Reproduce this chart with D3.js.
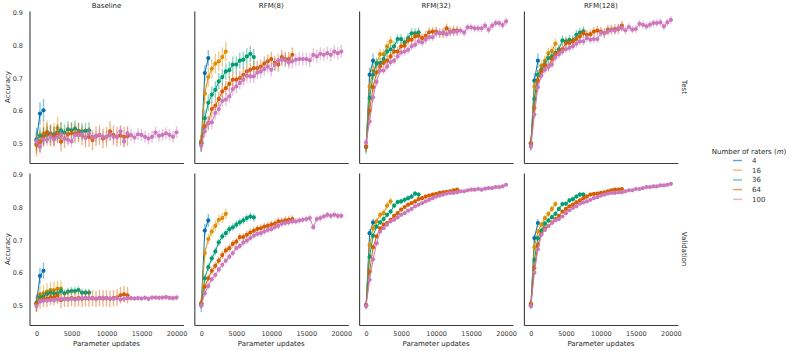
<html>
<head>
<meta charset="UTF-8">
<script src="https://cdn.jsdelivr.net/npm/d3@7"></script>
<style>
  body { margin: 0; background: #fff; }
  text { font-family: "DejaVu Sans", sans-serif; fill: #262626; }
  .axis path { stroke: #3d3d3d; stroke-width: 1.1; }
  .axis text { font-size: 6.5px; fill: #3a3a3a; }
</style>
</head>
<body>
<script>

// facet labels
let columns = ["Baseline", "RFM(8)", "RFM(32)", "RFM(128)"];
let rows = ["Test", "Validation"];
let raters = [4, 16, 36, 64, 100];
let colors = ["#0173b2", "#de8f05", "#029e73", "#d55e00", "#cc78bc"];

// evaluation points (parameter updates)
let updates = [0, 500, 1000, 1500, 2000, 2500, 3000, 3500, 4000, 4500, 5000, 5500, 6000, 6500, 7000, 7500,
  8000, 8500, 9000, 9500, 10000, 10500, 11000, 11500, 12000, 12500, 13000, 13500, 14000, 14500, 15000,
  15500, 16000, 16500, 17000, 17500, 18000, 18500, 19000, 19500, 20000];

let xTicks = [0, 5000, 10000, 15000, 20000];
let yTicks = [0.5, 0.6, 0.7, 0.8, 0.9];

// accuracy per panel, one list per number of raters (4, 16, 36, 64, 100)
let testBaseline = [
  [0.512, 0.591, 0.601],
  [0.494, 0.505, 0.530, 0.535, 0.525, 0.528, 0.547, 0.530],
  [0.510, 0.524, 0.522, 0.527, 0.530, 0.527, 0.533, 0.540, 0.533, 0.543, 0.540, 0.545, 0.538, 0.537, 0.538, 0.540],
  [0.498, 0.504, 0.520, 0.532, 0.525, 0.520, 0.530, 0.505, 0.515, 0.528, 0.532, 0.530, 0.533, 0.525, 0.518, 0.520, 0.510, 0.522, 0.525, 0.515, 0.520, 0.537, 0.525, 0.520, 0.524, 0.520, 0.522],
  [0.506, 0.490, 0.511, 0.511, 0.520, 0.512, 0.520, 0.525, 0.515, 0.511, 0.506, 0.525, 0.525, 0.527, 0.517, 0.530, 0.520, 0.520, 0.526, 0.520, 0.520, 0.526, 0.520, 0.520, 0.537, 0.506, 0.531, 0.525, 0.518, 0.528, 0.526, 0.520, 0.515, 0.520, 0.533, 0.523, 0.526, 0.531, 0.526, 0.520, 0.534]
];
let testRFM8 = [
  [0.500, 0.715, 0.761],
  [0.506, 0.652, 0.703, 0.728, 0.744, 0.751, 0.764, 0.781],
  [0.500, 0.577, 0.624, 0.649, 0.664, 0.690, 0.703, 0.720, 0.724, 0.741, 0.741, 0.753, 0.756, 0.766, 0.774, 0.764],
  [0.506, 0.552, 0.562, 0.605, 0.615, 0.636, 0.659, 0.669, 0.682, 0.695, 0.695, 0.700, 0.710, 0.720, 0.725, 0.730, 0.730, 0.735, 0.744, 0.751, 0.758, 0.746, 0.741, 0.764, 0.758, 0.758, 0.771],
  [0.493, 0.537, 0.562, 0.564, 0.593, 0.605, 0.630, 0.634, 0.644, 0.666, 0.674, 0.685, 0.695, 0.707, 0.705, 0.705, 0.717, 0.720, 0.727, 0.735, 0.725, 0.741, 0.754, 0.756, 0.754, 0.748, 0.751, 0.756, 0.758, 0.758, 0.758, 0.754, 0.771, 0.766, 0.774, 0.771, 0.776, 0.771, 0.781, 0.776, 0.781]
];
let testRFM32 = [
  [0.490, 0.710, 0.753],
  [0.490, 0.674, 0.722, 0.746, 0.773, 0.773, 0.797, 0.812],
  [0.490, 0.639, 0.710, 0.744, 0.746, 0.758, 0.781, 0.788, 0.797, 0.819, 0.819, 0.809, 0.822, 0.837, 0.837, 0.840],
  [0.490, 0.600, 0.672, 0.717, 0.735, 0.746, 0.753, 0.766, 0.781, 0.781, 0.797, 0.799, 0.815, 0.817, 0.827, 0.829, 0.822, 0.829, 0.840, 0.842, 0.842, 0.837, 0.837, 0.852, 0.842, 0.845, 0.845],
  [0.503, 0.567, 0.641, 0.688, 0.723, 0.723, 0.735, 0.748, 0.753, 0.766, 0.778, 0.781, 0.786, 0.797, 0.802, 0.812, 0.809, 0.817, 0.825, 0.825, 0.837, 0.837, 0.839, 0.834, 0.841, 0.841, 0.842, 0.845, 0.839, 0.855, 0.855, 0.852, 0.852, 0.852, 0.860, 0.848, 0.860, 0.868, 0.868, 0.862, 0.873]
];
let testRFM128 = [
  [0.500, 0.692, 0.753],
  [0.500, 0.674, 0.710, 0.738, 0.753, 0.776, 0.783, 0.805],
  [0.500, 0.636, 0.710, 0.725, 0.741, 0.761, 0.766, 0.776, 0.788, 0.815, 0.812, 0.817, 0.815, 0.832, 0.839, 0.843],
  [0.499, 0.608, 0.692, 0.720, 0.738, 0.735, 0.758, 0.773, 0.781, 0.788, 0.807, 0.807, 0.812, 0.819, 0.827, 0.837, 0.832, 0.834, 0.842, 0.845, 0.842, 0.837, 0.848, 0.848, 0.850, 0.850, 0.860],
  [0.490, 0.588, 0.672, 0.707, 0.725, 0.735, 0.741, 0.763, 0.773, 0.781, 0.788, 0.792, 0.797, 0.805, 0.812, 0.812, 0.822, 0.817, 0.819, 0.819, 0.839, 0.837, 0.842, 0.848, 0.845, 0.853, 0.853, 0.846, 0.856, 0.848, 0.850, 0.866, 0.863, 0.858, 0.863, 0.868, 0.868, 0.870, 0.858, 0.870, 0.878]
];
let valBaseline = [
  [0.508, 0.590, 0.606],
  [0.505, 0.534, 0.537, 0.542, 0.547, 0.547, 0.551, 0.551],
  [0.505, 0.525, 0.527, 0.535, 0.539, 0.537, 0.537, 0.544, 0.537, 0.542, 0.544, 0.544, 0.547, 0.539, 0.539, 0.539],
  [0.505, 0.515, 0.520, 0.520, 0.525, 0.525, 0.530, 0.516, 0.520, 0.520, 0.522, 0.520, 0.522, 0.520, 0.522, 0.521, 0.522, 0.520, 0.522, 0.521, 0.522, 0.520, 0.522, 0.524, 0.531, 0.534, 0.531],
  [0.498, 0.512, 0.514, 0.515, 0.516, 0.516, 0.518, 0.519, 0.520, 0.518, 0.520, 0.518, 0.520, 0.522, 0.522, 0.522, 0.521, 0.520, 0.522, 0.523, 0.522, 0.521, 0.520, 0.522, 0.518, 0.520, 0.522, 0.522, 0.521, 0.522, 0.521, 0.523, 0.520, 0.524, 0.524, 0.523, 0.524, 0.525, 0.523, 0.522, 0.524]
];
let valRFM8 = [
  [0.500, 0.729, 0.760],
  [0.506, 0.660, 0.703, 0.726, 0.743, 0.762, 0.767, 0.780],
  [0.505, 0.583, 0.617, 0.644, 0.665, 0.693, 0.711, 0.721, 0.733, 0.739, 0.747, 0.754, 0.760, 0.767, 0.772, 0.769],
  [0.506, 0.557, 0.583, 0.606, 0.621, 0.637, 0.654, 0.668, 0.675, 0.688, 0.695, 0.709, 0.709, 0.716, 0.723, 0.728, 0.734, 0.736, 0.741, 0.743, 0.747, 0.750, 0.757, 0.757, 0.760, 0.762, 0.764],
  [0.500, 0.537, 0.559, 0.580, 0.593, 0.610, 0.624, 0.637, 0.649, 0.660, 0.675, 0.682, 0.692, 0.698, 0.706, 0.713, 0.719, 0.721, 0.726, 0.731, 0.733, 0.739, 0.743, 0.750, 0.752, 0.754, 0.757, 0.757, 0.760, 0.762, 0.764, 0.767, 0.739, 0.764, 0.767, 0.772, 0.777, 0.774, 0.777, 0.774, 0.774]
];
let valRFM32 = [
  [0.500, 0.721, 0.754],
  [0.500, 0.685, 0.736, 0.757, 0.777, 0.782, 0.805, 0.818],
  [0.500, 0.649, 0.713, 0.741, 0.754, 0.764, 0.777, 0.787, 0.805, 0.816, 0.818, 0.823, 0.828, 0.833, 0.842, 0.839],
  [0.500, 0.603, 0.678, 0.711, 0.736, 0.747, 0.752, 0.762, 0.774, 0.782, 0.793, 0.801, 0.808, 0.813, 0.818, 0.825, 0.828, 0.833, 0.836, 0.839, 0.841, 0.844, 0.846, 0.847, 0.849, 0.852, 0.854],
  [0.498, 0.578, 0.641, 0.690, 0.726, 0.736, 0.747, 0.757, 0.762, 0.769, 0.777, 0.782, 0.790, 0.795, 0.803, 0.808, 0.813, 0.818, 0.823, 0.828, 0.833, 0.836, 0.839, 0.842, 0.844, 0.844, 0.846, 0.849, 0.849, 0.852, 0.854, 0.854, 0.856, 0.854, 0.857, 0.859, 0.859, 0.862, 0.862, 0.864, 0.869]
];
let valRFM128 = [
  [0.500, 0.706, 0.752],
  [0.506, 0.678, 0.726, 0.747, 0.767, 0.780, 0.795, 0.810],
  [0.500, 0.639, 0.706, 0.729, 0.750, 0.760, 0.770, 0.780, 0.795, 0.810, 0.811, 0.821, 0.825, 0.833, 0.839, 0.839],
  [0.503, 0.614, 0.685, 0.719, 0.736, 0.743, 0.754, 0.764, 0.774, 0.787, 0.795, 0.803, 0.808, 0.815, 0.821, 0.828, 0.833, 0.839, 0.841, 0.842, 0.844, 0.846, 0.849, 0.852, 0.854, 0.854, 0.856],
  [0.498, 0.600, 0.672, 0.716, 0.731, 0.743, 0.752, 0.760, 0.764, 0.772, 0.782, 0.791, 0.798, 0.803, 0.811, 0.815, 0.818, 0.823, 0.828, 0.831, 0.836, 0.839, 0.842, 0.844, 0.844, 0.846, 0.846, 0.849, 0.852, 0.852, 0.856, 0.856, 0.859, 0.862, 0.862, 0.864, 0.864, 0.867, 0.867, 0.869, 0.872]
];

// error bar half-widths, per panel, per number of raters
let testErr = [
  [0.035, 0.035, 0.025, 0.030, 0.018],
  [0.025, 0.030, 0.025, 0.022, 0.020],
  [0.022, 0.016, 0.015, 0.015, 0.012],
  [0.022, 0.016, 0.015, 0.015, 0.012]
];
let valErr = [
  [0.025, 0.025, 0.012, 0.025, 0.008],
  [0.020, 0.016, 0.012, 0.012, 0.010],
  [0.012, 0.012, 0.008, 0.006, 0.005],
  [0.012, 0.010, 0.008, 0.006, 0.005]
];

let panels = [
  [testBaseline, testRFM8, testRFM32, testRFM128],
  [valBaseline, valRFM8, valRFM32, valRFM128]
];
let errs = [testErr, valErr];

// layout
let W = 793, H = 351;
let left = 29.5, panelW = 154, gap = 10.8;
let rowTop = [11, 173], panelH = 152;

let svg = d3.select("body").append("svg")
  .attr("width", W).attr("height", H);

let x = d3.scaleLinear().domain([-1000, 21000]).range([0, panelW]);
let y = d3.scaleLinear().domain([0.44, 0.905]).range([panelH, 0]);

let line = d3.line()
  .x(d => x(d.u))
  .y(d => y(d.v));

rows.forEach((rowName, r) => {
  columns.forEach((colName, c) => {
    let g = svg.append("g")
      .attr("transform", "translate(" + (left + c * (panelW + gap)) + "," + rowTop[r] + ")");

    // axes (spines only, no tick marks)
    let yAxis = d3.axisLeft(y).tickValues(yTicks).tickSize(0).tickPadding(6.5)
      .tickFormat(c == 0 ? d3.format(".1f") : "");
    let xAxis = d3.axisBottom(x).tickValues(xTicks).tickSize(0).tickPadding(6)
      .tickFormat(r == 1 ? d3.format("d") : "");

    g.append("g").attr("class", "axis").call(yAxis);
    g.append("g").attr("class", "axis")
      .attr("transform", "translate(0," + panelH + ")")
      .call(xAxis);

    // series
    panels[r][c].forEach((vals, s) => {
      let data = vals.map((v, i) => ({u: updates[i], v: v}));
      let e = errs[r][c][s];
      let sg = g.append("g");

      sg.selectAll("line.err")
        .data(data)
        .enter().append("line")
          .attr("class", "err")
          .attr("x1", d => x(d.u)).attr("x2", d => x(d.u))
          .attr("y1", d => y(d.v - e)).attr("y2", d => y(d.v + e))
          .attr("stroke", colors[s])
          .attr("stroke-opacity", 0.45)
          .attr("stroke-width", 1.4);

      sg.append("path")
        .attr("d", line(data))
        .attr("fill", "none")
        .attr("stroke", colors[s])
        .attr("stroke-width", 1);

      sg.selectAll("circle")
        .data(data)
        .enter().append("circle")
          .attr("cx", d => x(d.u))
          .attr("cy", d => y(d.v))
          .attr("r", 2.1)
          .attr("fill", colors[s]);
    });

    // column titles on top row
    if (r == 0) {
      g.append("text")
        .attr("x", panelW / 2).attr("y", -3)
        .attr("text-anchor", "middle")
        .style("font-size", "7px")
        .text(colName);
    }

    // y label on first column
    if (c == 0) {
      g.append("text")
        .attr("transform", "translate(-20," + (panelH / 2) + ") rotate(-90)")
        .attr("text-anchor", "middle")
        .style("font-size", "7px")
        .text("Accuracy");
    }

    // x label on bottom row
    if (r == 1) {
      g.append("text")
        .attr("x", panelW / 2).attr("y", panelH + 20.5)
        .attr("text-anchor", "middle")
        .style("font-size", "7px")
        .text("Parameter updates");
    }

    // row titles on right margin
    if (c == 3) {
      g.append("text")
        .attr("transform", "translate(" + (panelW + 4) + "," + (panelH / 2) + ") rotate(90)")
        .attr("text-anchor", "middle")
        .style("font-size", "7px")
        .text(rowName);
    }
  });
});

// legend
let legend = svg.append("g").attr("transform", "translate(749,0)");

let title = legend.append("text")
  .attr("x", 0).attr("y", 153.5)
  .attr("text-anchor", "middle")
  .style("font-size", "7px");
title.append("tspan").text("Number of raters (");
title.append("tspan").style("font-style", "italic").text("m");
title.append("tspan").text(")");

let legendG = legend.selectAll(".legend")
  .data(raters)
  .enter().append("g")
  .attr("class", "legend")
  .attr("transform", (d, i) => "translate(0," + (160.5 + i * 9.7) + ")");

legendG.append("line")
  .attr("x1", -16).attr("x2", -7)
  .attr("stroke", (d, i) => colors[i])
  .attr("stroke-opacity", 0.15)
  .attr("stroke-width", 2.6);

legendG.append("line")
  .attr("x1", -16).attr("x2", -7)
  .attr("stroke", (d, i) => colors[i])
  .attr("stroke-opacity", 0.65)
  .attr("stroke-width", 0.9);

legendG.append("text")
  .attr("x", 3).attr("y", 2.4)
  .style("font-size", "7px")
  .style("fill", "#333")
  .text(d => d);

</script>
</body>
</html>
